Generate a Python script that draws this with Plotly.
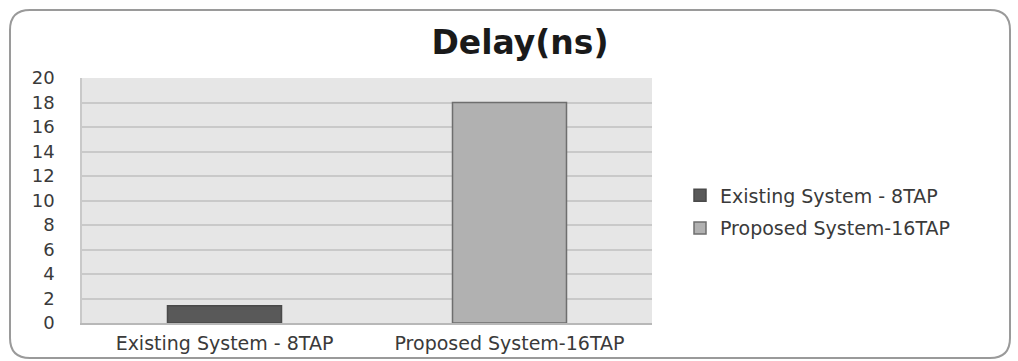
import plotly.graph_objects as go

categories = ["Existing System - 8TAP", "Proposed System-16TAP"]
series_names = ["Existing System - 8TAP", "Proposed System-16TAP"]
delay_values = [1.4, 18.0]
bar_colors = ["#595959", "#b1b1b1"]
line_colors = ["#4a4a4a", "#6e6e6e"]
y_ticks = [0, 2, 4, 6, 8, 10, 12, 14, 16, 18, 20]

W, H = 1018, 361
fig = go.Figure()
for i, name in enumerate(series_names):
    fig.add_trace(go.Bar(
        x=[categories[i]], y=[delay_values[i]], name=name,
        width=0.4, legendgroup=f"g{i}",
        marker=dict(color=bar_colors[i], line=dict(color=line_colors[i], width=1.5)),
    ))

font_family = "DejaVu Sans"
text_color = "#3a3a3a"
fig.update_layout(
    width=W, height=H,
    margin=dict(l=82, r=W - 652, t=78, b=H - 323, autoexpand=False),
    paper_bgcolor="white",
    plot_bgcolor="#e6e6e6",
    barmode="overlay",
    title=dict(text="<b>Delay(ns)</b>", x=520 / W, xanchor="center", y=1 - 42 / H, yanchor="middle",
               font=dict(family=font_family, size=33, color="#1a1a1a")),
    font=dict(family=font_family, color=text_color),
    legend=dict(xref="container", yref="container", x=680 / W, xanchor="left",
                y=1 - 212 / H, yanchor="middle", tracegroupgap=5,
                font=dict(family=font_family, size=19, color=text_color),
                bgcolor="rgba(0,0,0,0)"),
    showlegend=True,
)
fig.update_xaxes(
    automargin=False,
    showgrid=False, showline=True, linecolor="#b8b8b8", linewidth=1.5,
    ticks="outside", ticklen=2, tickcolor="rgba(0,0,0,0)",
    tickfont=dict(family=font_family, size=19, color=text_color),
)
fig.update_yaxes(
    automargin=False,
    range=[0, 20], tickvals=y_ticks, showgrid=True, gridcolor="#c9c9c9", gridwidth=2,
    zeroline=False, showline=True, linecolor="#c9c9c9", linewidth=1.5,
    ticks="outside", ticklen=22, tickcolor="rgba(0,0,0,0)",
    tickfont=dict(family=font_family, size=18, color=text_color),
)

# rounded outer frame, expressed in paper coordinates of the plot domain
pl, pr, pt, pb = 82, 652, 78, 323
def px_to_paper_x(v):
    return (v - pl) / (pr - pl)
def px_to_paper_y(v):
    return (pb - v) / (pb - pt)
X0, X1, Y0, Y1, R = 10, 1010, 10, 358, 20
pts = lambda x, y: f"{px_to_paper_x(x)},{px_to_paper_y(y)}"
path = (f"M {pts(X0+R, Y0)} L {pts(X1-R, Y0)} Q {pts(X1, Y0)} {pts(X1, Y0+R)} "
        f"L {pts(X1, Y1-R)} Q {pts(X1, Y1)} {pts(X1-R, Y1)} L {pts(X0+R, Y1)} "
        f"Q {pts(X0, Y1)} {pts(X0, Y1-R)} L {pts(X0, Y0+R)} Q {pts(X0, Y0)} {pts(X0+R, Y0)} Z")
fig.add_shape(type="path", path=path, xref="paper", yref="paper",
              line=dict(color="#9a9a9a", width=2), layer="above")

fig.write_html("out.html")
